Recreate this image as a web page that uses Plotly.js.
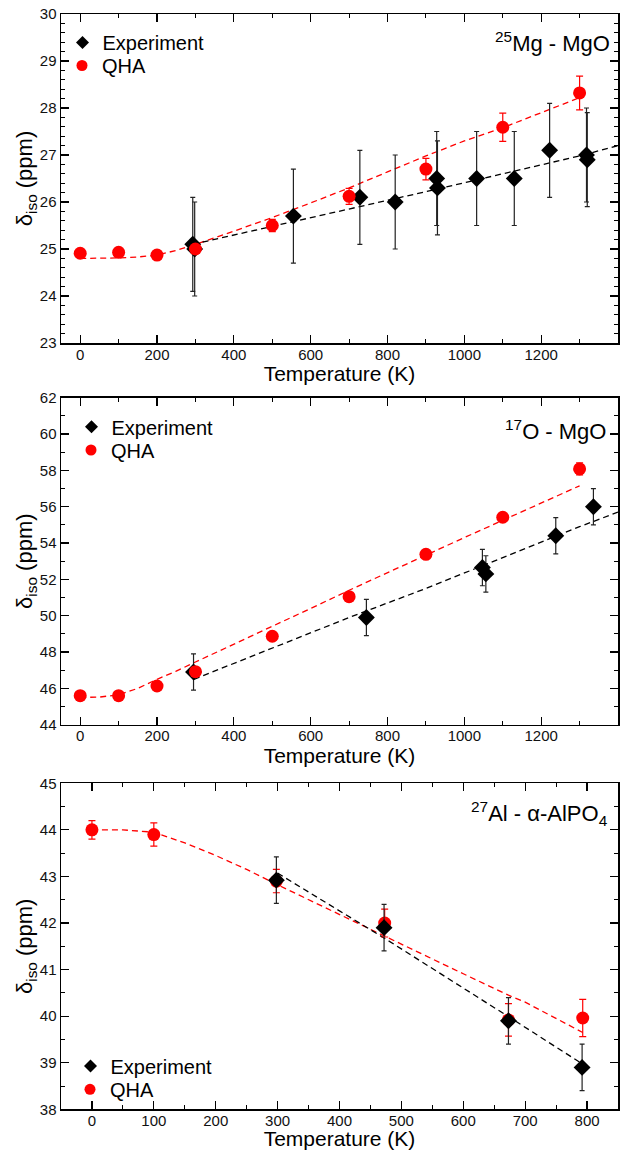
<!DOCTYPE html>
<html><head><meta charset="utf-8">
<script src="https://cdn.plot.ly/plotly-3.0.1.min.js"></script>
<style>html,body{margin:0;padding:0;background:#fff}#chart{width:621px;height:1150px}</style>
</head><body><div id="chart"></div>
<script>
// ---------- Panel 1: 25Mg - MgO ----------
const mgExpT   = [293, 298, 555, 728, 820, 928, 930, 1032, 1130, 1222, 1318, 1320];
const mgExpD   = [25.1, 25.0, 25.7, 26.1, 26.0, 26.5, 26.3, 26.5, 26.5, 27.1, 27.0, 26.9];
const mgExpErr = [1, 1, 1, 1, 1, 1, 1, 1, 1, 1, 1, 1];
const mgQhaT   = [0, 100, 200, 300, 500, 700, 900, 1100, 1300];
const mgQhaD   = [24.91, 24.93, 24.87, 25.0, 25.5, 26.12, 26.7, 27.59, 28.32];
const mgQhaErr = [0.05, 0.05, 0.05, 0.08, 0.13, 0.17, 0.23, 0.3, 0.36];
const mgQhaFitT = [0, 50, 100, 150, 200, 250, 300, 400, 500, 600, 700, 800, 900, 1000, 1100, 1200, 1300];
const mgQhaFitD = [24.8, 24.8, 24.81, 24.83, 24.87, 24.97, 25.1, 25.38, 25.67, 25.98, 26.3, 26.64, 26.98, 27.3, 27.58, 27.9, 28.22];
const mgExpFitT = [293, 500, 700, 900, 1100, 1300, 1400];
const mgExpFitD = [25.1, 25.48, 25.85, 26.22, 26.6, 26.98, 27.2];

// ---------- Panel 2: 17O - MgO ----------
const oExpT   = [295, 745, 1047, 1056, 1238, 1336];
const oExpD   = [46.9, 49.9, 52.65, 52.3, 54.4, 56.0];
const oExpErr = [1, 1, 1, 1, 1, 1];
const oQhaT   = [0, 100, 200, 300, 500, 700, 900, 1100, 1300];
const oQhaD   = [45.6, 45.6, 46.13, 46.92, 48.87, 51.05, 53.38, 55.42, 58.08];
const oQhaErr = [0.1, 0.1, 0.1, 0.1, 0.1, 0.1, 0.15, 0.2, 0.33];
const oQhaFitT = [0, 50, 100, 150, 200, 250, 300, 400, 500, 600, 700, 800, 900, 1000, 1100, 1200, 1300];
const oQhaFitD = [45.5, 45.52, 45.65, 46.0, 46.5, 46.95, 47.45, 48.42, 49.4, 50.4, 51.4, 52.38, 53.35, 54.3, 55.25, 56.2, 57.15];
const oExpFitT = [296, 500, 700, 900, 1100, 1300, 1400];
const oExpFitD = [46.5, 48.2, 49.9, 51.5, 53.2, 54.9, 55.7];

// ---------- Panel 3: 27Al - alpha-AlPO4 ----------
const alExpT   = [298, 472, 673, 792];
const alExpD   = [42.92, 41.9, 39.9, 38.9];
const alExpErr = [0.5, 0.5, 0.5, 0.5];
const alQhaT   = [0, 100, 298, 473, 673, 793];
const alQhaD   = [44.0, 43.9, 42.9, 42.0, 39.92, 39.96];
const alQhaErr = [0.2, 0.25, 0.25, 0.3, 0.35, 0.4];
const alQhaFitT = [0, 50, 100, 150, 200, 250, 300, 400, 473, 500, 600, 673, 700, 793];
const alQhaFitD = [44.0, 44.0, 43.95, 43.72, 43.45, 43.15, 42.82, 42.18, 41.71, 41.54, 40.91, 40.45, 40.3, 39.65];
const alExpFitT = [300, 473, 673, 793];
const alExpFitD = [43.07, 41.67, 39.99, 38.97];

const seriesNames = ['Experiment', 'QHA'];

const RED = '#ff0000';
const FONT = 'Liberation Sans, Arial, sans-serif';

function fit(x, y, color, xa, ya) {
  return {x: x, y: y, xaxis: xa, yaxis: ya, mode: 'lines', showlegend: false, hoverinfo: 'skip',
          line: {color: color, width: 1.3, dash: '6px,4px'}};
}
function exp(x, y, err, xa, ya) {
  return {x: x, y: y, xaxis: xa, yaxis: ya, mode: 'markers', name: seriesNames[0], showlegend: false,
          marker: {symbol: 'diamond', size: 13, color: '#000'},
          error_y: {type: 'data', array: err, visible: true, color: '#222', thickness: 1.2, width: 2.5}};
}
function qha(x, y, err, xa, ya) {
  return {x: x, y: y, xaxis: xa, yaxis: ya, mode: 'markers', name: seriesNames[1], showlegend: false,
          marker: {symbol: 'circle', size: 13, color: RED},
          error_y: {type: 'data', array: err, visible: true, color: RED, thickness: 1.2, width: 3.5}};
}
// legend-only entries (smaller symbols, as in the reference key)
function key(i, xa, ya, leg) {
  return {x: [null], y: [null], xaxis: xa, yaxis: ya, mode: 'markers', name: seriesNames[i], legend: leg, showlegend: true,
          marker: i === 0 ? {symbol: 'diamond', size: 10, color: '#000'} : {symbol: 'circle', size: 11, color: RED}};
}

const traces = [
  fit(mgQhaFitT, mgQhaFitD, RED, 'x', 'y'),
  fit(mgExpFitT, mgExpFitD, '#000', 'x', 'y'),
  exp(mgExpT, mgExpD, mgExpErr, 'x', 'y'),
  qha(mgQhaT, mgQhaD, mgQhaErr, 'x', 'y'),

  fit(oQhaFitT, oQhaFitD, RED, 'x2', 'y2'),
  fit(oExpFitT, oExpFitD, '#000', 'x2', 'y2'),
  exp(oExpT, oExpD, oExpErr, 'x2', 'y2'),
  qha(oQhaT, oQhaD, oQhaErr, 'x2', 'y2'),

  fit(alQhaFitT, alQhaFitD, RED, 'x3', 'y3'),
  fit(alExpFitT, alExpFitD, '#000', 'x3', 'y3'),
  qha(alQhaT, alQhaD, alQhaErr, 'x3', 'y3'),
  exp(alExpT, alExpD, alExpErr, 'x3', 'y3'),

  key(0, 'x', 'y', 'legend'),   key(1, 'x', 'y', 'legend2'),
  key(0, 'x2', 'y2', 'legend3'), key(1, 'x2', 'y2', 'legend4'),
  key(0, 'x3', 'y3', 'legend5'), key(1, 'x3', 'y3', 'legend6')
];

function axisBase(range, dtick, minorDtick) {
  return {
    range: range, dtick: dtick, tick0: 0, showgrid: false, zeroline: false,
    showline: true, linecolor: '#000', linewidth: 1.5, mirror: 'ticks',
    ticks: 'inside', ticklen: 8, tickwidth: 1.2, tickcolor: '#000',
    minor: {ticks: 'inside', ticklen: 4, dtick: minorDtick, tick0: 0, tickcolor: '#000', tickwidth: 1, showgrid: false},
    tickfont: {family: FONT, size: 15, color: '#111'}
  };
}
function xax(range, dtick, minor, anchor) {
  const a = axisBase(range, dtick, minor);
  a.anchor = anchor; a.domain = [0, 1];
  a.ticklabelstandoff = -3;
  a.title = {text: 'Temperature (K)', font: {family: FONT, size: 21, color: '#000'}, standoff: 1};
  return a;
}
function yax(range, dtick, minor, domain, anchor) {
  const a = axisBase(range, dtick, minor);
  a.anchor = anchor; a.domain = domain;
  a.title = {text: 'δ<sub>iso</sub> (ppm)', font: {family: FONT, size: 22, color: '#000'}, standoff: 0};
  return a;
}
const H = 1150, L = 61, PW = 557;
function legendAt(markerPx, centerPx) {
  return {x: (markerPx - 20 - L) / PW, y: 1 - centerPx / H, xanchor: 'left', yanchor: 'middle',
          bgcolor: 'rgba(0,0,0,0)', borderwidth: 0, itemwidth: 30,
          font: {family: FONT, size: 20, color: '#000'}};
}

const layout = {
  width: 621, height: H, paper_bgcolor: '#fff', plot_bgcolor: '#fff',
  margin: {l: L, r: 3, t: 0, b: 0},
  font: {family: FONT, color: '#000'},
  showlegend: true,
  xaxis:  xax([-50, 1400], 200, 100, 'y'),
  xaxis2: xax([-50, 1400], 200, 100, 'y2'),
  xaxis3: xax([-50, 850], 100, 50, 'y3'),
  yaxis:  yax([23, 30], 1, 0.2, [1 - 343 / H, 1 - 14 / H], 'x'),
  yaxis2: yax([44, 62], 2, 1, [1 - 724.7 / H, 1 - 397.7 / H], 'x2'),
  yaxis3: yax([38, 45], 1, 0.5, [1 - 1109.3 / H, 1 - 783.3 / H], 'x3'),
  legend:  legendAt(82.5, 42.5),
  legend2: legendAt(82, 65.5),
  legend3: legendAt(91.5, 426.7),
  legend4: legendAt(91, 450),
  legend5: legendAt(90.5, 1066),
  legend6: legendAt(90, 1089.3),
  annotations: [
    {text: '<sup>25</sup>Mg - MgO', xref: 'paper', yref: 'paper', x: (612 - L) / PW, y: 1 - 42 / H,
     xanchor: 'right', yanchor: 'middle', showarrow: false, font: {family: FONT, size: 22, color: '#000'}},
    {text: '<sup>17</sup>O - MgO', xref: 'paper', yref: 'paper', x: (608 - L) / PW, y: 1 - 430 / H,
     xanchor: 'right', yanchor: 'middle', showarrow: false, font: {family: FONT, size: 22, color: '#000'}},
    {text: '<sup>27</sup>Al - α-AlPO<sub>4</sub>', xref: 'paper', yref: 'paper', x: (610 - L) / PW, y: 1 - 813 / H,
     xanchor: 'right', yanchor: 'middle', showarrow: false, font: {family: FONT, size: 22, color: '#000'}}
  ]
};

Plotly.newPlot('chart', traces, layout, {displayModeBar: false, staticPlot: true});
</script>
</body></html>
